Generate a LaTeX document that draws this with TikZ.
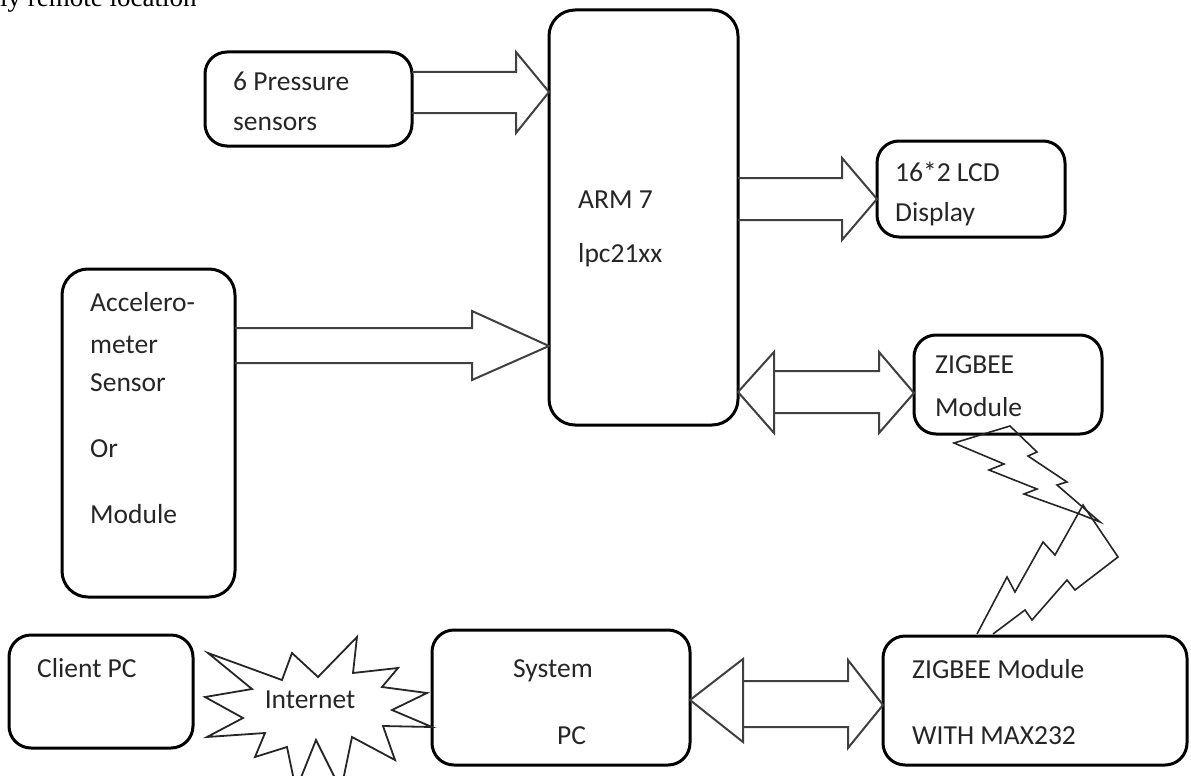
\documentclass[tikz,border=0pt]{standalone}
\usepackage{fontspec}
\setmainfont{Carlito}
\newfontfamily\timesf{Liberation Serif}
\begin{document}
\begin{tikzpicture}[x=1pt,y=-1pt,
  box/.style={draw=black, line width=3pt, rounded corners=22pt, anchor=north west, inner sep=0pt, outer sep=0pt},
  lab/.style={anchor=base west, inner sep=0pt, text=black!85, font=\fontsize{27.5}{31}\selectfont},
  blk/.style={draw=black!75, line width=2pt, line join=miter},
  bolt/.style={draw=black!85, line width=1.6pt, line join=miter},
]
\useasboundingbox (0,0) rectangle (1191,776);
\fill[white] (0,0) rectangle (1191,776);

% header text (cut off at the top edge, as in the reference)
\node[anchor=base west, inner sep=0pt, font=\timesf\fontsize{27}{30}\selectfont] (hdr) at (0,7) {ly remote location};

% boxes
\node[box, minimum width=207pt, minimum height=94pt] (press) at (205,52) {};
\node[box, minimum width=189pt, minimum height=415pt, rounded corners=26pt] (arm) at (549,10) {};
\node[box, minimum width=188pt, minimum height=96pt] (lcd) at (877,141) {};
\node[box, minimum width=173pt, minimum height=328pt, rounded corners=26pt] (acc) at (62,269) {};
\node[box, minimum width=188pt, minimum height=99pt] (zig) at (914,335) {};
\node[box, minimum width=184pt, minimum height=113pt] (client) at (9,635) {};
\node[box, minimum width=258pt, minimum height=135pt] (sys) at (432,630) {};
\node[box, minimum width=304pt, minimum height=129pt] (zmax) at (883,636) {};

% labels
\node[lab] (t1) at (233,90) {6 Pressure};
\node[lab] (t2) at (233,130) {sensors};
\node[lab] (t3) at (578,208) {ARM 7};
\node[lab] (t4) at (578,262) {lpc21xx};
\node[lab] (t5) at (895,181) {16*2 LCD};
\node[lab] (t6) at (895,221) {Display};
\node[lab] (t7) at (90,311) {Accelero-};
\node[lab] (t8) at (90,353) {meter};
\node[lab] (t9) at (90,391) {Sensor};
\node[lab] (t10) at (90,457) {Or};
\node[lab] (t11) at (90,523) {Module};
\node[lab] (t12) at (935,373) {ZIGBEE};
\node[lab] (t13) at (935,416) {Module};
\node[lab] (t14) at (37,677) {Client PC};
\node[lab] (t15) at (513,677) {System};
\node[lab] (t16) at (557,744) {PC};
\node[lab] (t17) at (912,678) {ZIGBEE Module};
\node[lab] (t18) at (912,744) {WITH MAX232};

% pressure -> arm
\draw[blk] (press.east |- 0,72) -- (516,72) -- (516,52) -- (arm.west |- 0,92) -- (516,133) -- (516,113) -- (press.east |- 0,113);
% arm -> lcd
\draw[blk] (arm.east |- 0,178) -- (842,178) -- (842,158) -- (lcd.west |- 0,199) -- (842,240) -- (842,220) -- (arm.east |- 0,220);
% acc -> arm
\draw[blk] (acc.east |- 0,328) -- (472,328) -- (472,311) -- (arm.west |- 0,346) -- (472,380) -- (472,363) -- (acc.east |- 0,363);
% arm <-> zig
\draw[blk] (arm.east |- 0,392) -- (774,352) -- (774,433) -- cycle;
\draw[blk] (774,371) -- (879,371) -- (879,352) -- (zig.west |- 0,393) -- (879,433) -- (879,413) -- (774,413);
% sys <-> zmax
\draw[blk] (sys.east |- 0,700) -- (743,659) -- (743,742) -- cycle;
\draw[blk] (743,681) -- (848,681) -- (848,660) -- (zmax.west |- 0,705) -- (848,748) -- (848,727) -- (743,727);

% lightning bolts
\draw[bolt] (1010,426) -- (1037,452) -- (1028,456) -- (1067,482) -- (1057,485) -- (1100,522) -- (1077,513) -- (1024,494) -- (1037,489) -- (989,470) -- (1004,464) -- (954,443) -- cycle;
\draw[bolt] (977,634) -- (1007,577) -- (1015,592) -- (1043,542) -- (1055,555) -- (1083,505) -- (1118,557) -- (1075,590) -- (1067,580) -- (1032,620) -- (1025,610) -- (993,634);

% internet starburst
\draw[bolt, line width=1.8pt] (208,653) -- (282,680) -- (292,653) -- (318,677) -- (357,637) -- (353,673) -- (398,668) -- (382,687) -- (427,693) -- (392,710) -- (sys.west |- 0,727) -- (383,726) -- (395,760) -- (352,737) -- (341,790) -- (316,740) -- (296,790) -- (287,747) -- (255,757) -- (265,733) -- (207,737) -- (243,718) -- (205,697) -- (252,689) -- cycle;
\node[anchor=base, inner sep=0pt, text=black!85, font=\fontsize{27.5}{31}\selectfont] (inet) at (310,708) {Internet};
\end{tikzpicture}
\end{document}
